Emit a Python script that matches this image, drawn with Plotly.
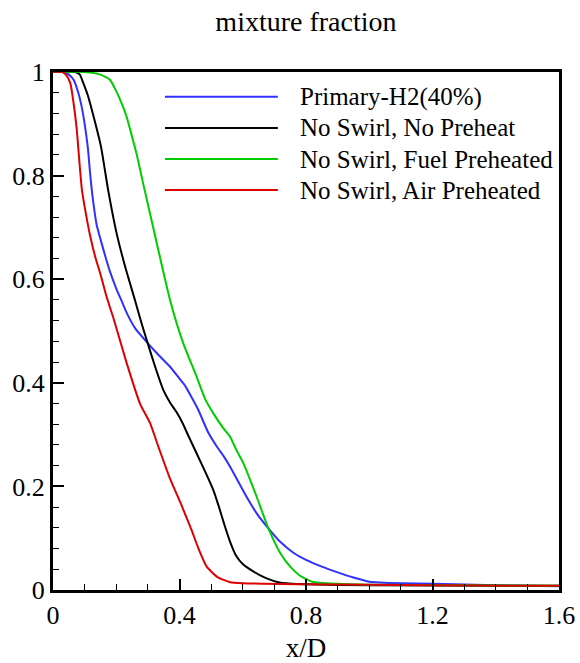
import plotly.graph_objects as go

blue_x = [0, 0.03, 0.05, 0.065, 0.08, 0.09, 0.1, 0.11, 0.118, 0.126, 0.138, 0.152, 0.166, 0.18, 0.2, 0.217, 0.233, 0.26, 0.296, 0.33, 0.37, 0.395, 0.417, 0.44, 0.46, 0.49, 0.518, 0.54, 0.56, 0.585, 0.612, 0.644, 0.681, 0.72, 0.76, 0.8, 0.85, 0.9, 0.95, 1.0, 1.1, 1.2, 1.4, 1.6]
blue_y = [1, 1, 0.995, 0.985, 0.96, 0.935, 0.9, 0.855, 0.8, 0.755, 0.705, 0.673, 0.643, 0.615, 0.582, 0.558, 0.535, 0.505, 0.479, 0.456, 0.431, 0.412, 0.395, 0.37, 0.347, 0.305, 0.277, 0.258, 0.238, 0.21, 0.18, 0.148, 0.119, 0.092, 0.072, 0.058, 0.045, 0.034, 0.024, 0.016, 0.013, 0.012, 0.009, 0.007]

black_x = [0, 0.07, 0.085, 0.095, 0.11, 0.13, 0.152, 0.175, 0.201, 0.23, 0.259, 0.28, 0.296, 0.323, 0.349, 0.37, 0.391, 0.41, 0.43, 0.454, 0.48, 0.507, 0.525, 0.544, 0.56, 0.58, 0.6, 0.633, 0.67, 0.72, 0.8, 1.0, 1.6]
black_y = [1, 1, 0.995, 0.98, 0.955, 0.91, 0.855, 0.77, 0.689, 0.62, 0.56, 0.515, 0.483, 0.431, 0.386, 0.362, 0.343, 0.322, 0.295, 0.264, 0.23, 0.193, 0.16, 0.122, 0.093, 0.065, 0.05, 0.036, 0.024, 0.014, 0.011, 0.009, 0.008]

green_x = [0, 0.1, 0.15, 0.18, 0.2, 0.22, 0.233, 0.25, 0.265, 0.285, 0.328, 0.37, 0.412, 0.454, 0.48, 0.507, 0.539, 0.56, 0.58, 0.602, 0.644, 0.681, 0.72, 0.75, 0.78, 0.82, 0.9, 1.0, 1.6]
green_y = [1, 1, 0.995, 0.985, 0.963, 0.935, 0.913, 0.875, 0.84, 0.785, 0.67, 0.56, 0.476, 0.412, 0.37, 0.341, 0.312, 0.296, 0.27, 0.245, 0.18, 0.119, 0.07, 0.045, 0.028, 0.016, 0.012, 0.01, 0.008]

red_x = [0, 0.03, 0.042, 0.055, 0.065, 0.075, 0.083, 0.091, 0.1, 0.117, 0.135, 0.149, 0.17, 0.191, 0.233, 0.275, 0.307, 0.333, 0.37, 0.402, 0.438, 0.46, 0.486, 0.52, 0.56, 0.6, 0.8, 1.2, 1.6]
red_y = [1, 1, 0.994, 0.978, 0.94, 0.89, 0.83, 0.775, 0.74, 0.685, 0.64, 0.612, 0.565, 0.525, 0.438, 0.36, 0.322, 0.277, 0.215, 0.17, 0.116, 0.08, 0.045, 0.025, 0.015, 0.013, 0.011, 0.009, 0.008]

series_names = ["Primary-H2(40%)", "No Swirl, No Preheat", "No Swirl, Fuel Preheated", "No Swirl, Air Preheated"]
series_colors = ["#3030ff", "#000000", "#00cc00", "#dd0000"]
series_data = [(blue_x, blue_y), (black_x, black_y), (green_x, green_y), (red_x, red_y)]

x_ticks = [0, 0.4, 0.8, 1.2, 1.6]
x_ticklabels = ["0", "0.4", "0.8", "1.2", "1.6"]
y_ticks = [0, 0.2, 0.4, 0.6, 0.8, 1]
y_ticklabels = ["0", "0.2", "0.4", "0.6", "0.8", "1"]

FONT = "Liberation Serif, Times New Roman, serif"

fig = go.Figure()
for (xs, ys), name, col in zip(series_data, series_names, series_colors):
    fig.add_trace(go.Scatter(x=xs, y=ys, mode="lines", name=name,
                             line=dict(color=col, width=2, shape="spline", smoothing=0.5),
                             showlegend=False))

# legend drawn manually
leg_x0, leg_x1, leg_tx = 0.354, 0.711, 0.774
leg_y = [0.952, 0.892, 0.832, 0.772]
for name, col, ly in zip(series_names, series_colors, leg_y):
    fig.add_shape(type="line", xref="x", yref="y", x0=leg_x0, x1=leg_x1, y0=ly, y1=ly,
                  line=dict(color=col, width=2))
    fig.add_annotation(x=leg_tx, y=ly, xref="x", yref="y", text=name, showarrow=False,
                       xanchor="left", yanchor="middle", font=dict(family=FONT, size=25, color="black"))

fig.update_layout(
    width=580, height=663,
    margin=dict(l=53, r=21, t=72, b=73, autoexpand=False),
    paper_bgcolor="white", plot_bgcolor="white",
    font=dict(family=FONT, color="black"),
    title=dict(text="mixture fraction", x=0.5275, xanchor="center", y=1 - 21/663, yanchor="middle",
               yref="container", font=dict(family=FONT, size=28, color="black")),
)
fig.update_xaxes(range=[0, 1.6], tickvals=x_ticks, ticktext=x_ticklabels, automargin=False,
                 ticks="inside", ticklen=11, tickwidth=2, tickcolor="black",
                 showline=True, linewidth=3, linecolor="black", mirror=True,
                 showgrid=False, zeroline=False,
                 tickfont=dict(family=FONT, size=26, color="black"),
                 minor=dict(tickvals=[0.1, 0.2, 0.3, 0.5, 0.6, 0.7, 0.9, 1.0, 1.1, 1.3, 1.4, 1.5],
                            ticks="inside", ticklen=6, tickwidth=1, tickcolor="black", showgrid=False),
                 title=dict(text="x/D", font=dict(family=FONT, size=27, color="black"), standoff=9))
fig.update_yaxes(range=[0, 1], tickvals=y_ticks, ticktext=y_ticklabels, automargin=False,
                 ticks="inside", ticklen=11, tickwidth=2, tickcolor="black",
                 showline=True, linewidth=3, linecolor="black", mirror=True,
                 showgrid=False, zeroline=False,
                 tickfont=dict(family=FONT, size=26, color="black"),
                 minor=dict(dtick=0.04, tick0=0, ticks="inside", ticklen=6, tickwidth=1,
                            tickcolor="black", showgrid=False))

fig.write_html("out.html")
